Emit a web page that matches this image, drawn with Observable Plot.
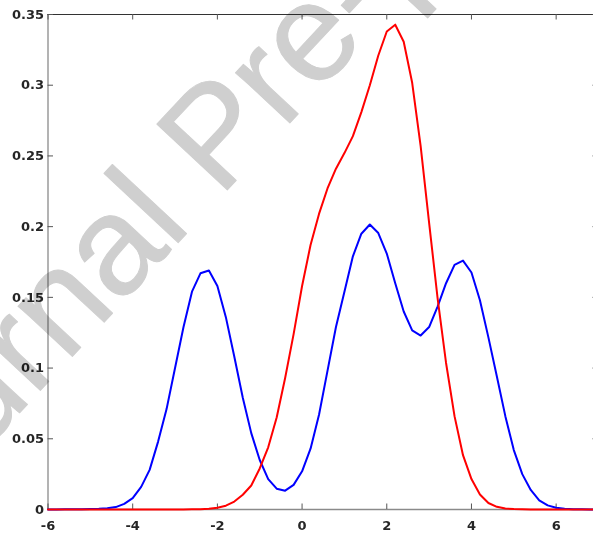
<!DOCTYPE html>
<html>
<head>
<meta charset="utf-8">
<script src="https://cdn.jsdelivr.net/npm/d3@7"></script>
<script src="https://cdn.jsdelivr.net/npm/@observablehq/plot@0.6"></script>
<style>
  html, body { margin: 0; padding: 0; background: #fff; }
  #chart svg { display: block; }
</style>
</head>
<body>
<div id="chart"></div>
<script>
// x grid of the sampled densities
const xs = [
  -6.0, -5.8, -5.6, -5.4, -5.2, -5.0, -4.8, -4.6, -4.4, -4.2,
  -4.0, -3.8, -3.6, -3.4, -3.2, -3.0, -2.8, -2.6, -2.4, -2.2,
  -2.0, -1.8, -1.6, -1.4, -1.2, -1.0, -0.8, -0.6, -0.4, -0.2,
   0.0,  0.2,  0.4,  0.6,  0.8,  1.0,  1.2,  1.4,  1.6,  1.8,
   2.0,  2.2,  2.4,  2.6,  2.8,  3.0,  3.2,  3.4,  3.6,  3.8,
   4.0,  4.2,  4.4,  4.6,  4.8,  5.0,  5.2,  5.4,  5.6,  5.8,
   6.0,  6.2,  6.4,  6.6,  6.8,  7.0
];

// blue series (three-mode density)
const blueValues = [
  0.0000, 0.0000, 0.0001, 0.0001, 0.0002, 0.0003, 0.0005, 0.0009, 0.0017, 0.0040,
  0.0080, 0.0160, 0.0280, 0.0480, 0.0710, 0.1000, 0.1290, 0.1540, 0.1670, 0.1690,
  0.1580, 0.1360, 0.1080, 0.0790, 0.0540, 0.0350, 0.0215, 0.0147, 0.0133, 0.0174,
  0.0270, 0.0430, 0.0670, 0.0980, 0.1290, 0.1540, 0.1790, 0.1950, 0.2015, 0.1955,
  0.1810, 0.1600, 0.1400, 0.1266, 0.1230, 0.1290, 0.1435, 0.1600, 0.1730, 0.1760,
  0.1676, 0.1480, 0.1217, 0.0940, 0.0660, 0.0420, 0.0250, 0.0138, 0.0065, 0.0029,
  0.0012, 0.0005, 0.0002, 0.0001, 0.0000, 0.0000
];

// red series (single skewed peak)
const redValues = [
  0.0000, 0.0000, 0.0000, 0.0000, 0.0000, 0.0000, 0.0000, 0.0000, 0.0000, 0.0000,
  0.0000, 0.0000, 0.0000, 0.0000, 0.0000, 0.0000, 0.0000, 0.0001, 0.0002, 0.0005,
  0.0012, 0.0027, 0.0056, 0.0104, 0.0170, 0.0290, 0.0440, 0.0650, 0.0930, 0.1240,
  0.1580, 0.1870, 0.2090, 0.2270, 0.2410, 0.2520, 0.2640, 0.2810, 0.3000, 0.3210,
  0.3380, 0.3428, 0.3307, 0.3017, 0.2570, 0.2027, 0.1495, 0.1036, 0.0660, 0.0384,
  0.0215, 0.0106, 0.0046, 0.0019, 0.0007, 0.0003, 0.0001, 0.0000, 0.0000, 0.0000,
  0.0000, 0.0000, 0.0000, 0.0000, 0.0000, 0.0000
];

const xTicks = [-6, -4, -2, 0, 2, 4, 6];
const yTicks = [0, 0.05, 0.1, 0.15, 0.2, 0.25, 0.3, 0.35];
const xDomain = [-6, 7];
const yDomain = [0, 0.35];
const watermark = ["Journal Pre-proof"];

const blue = xs.map((x, i) => ({x, y: blueValues[i]}));
const red = xs.map((x, i) => ({x, y: redValues[i]}));

const W = 593, H = 536;
const mL = 47.5, mR = -5, mT = 14, mB = 27;
const frameW = W - mL - mR, frameH = H - mT - mB;
const tick = 5.5;
const labelFont = "DejaVu Sans";

const chart = Plot.plot({
  width: W,
  height: H,
  marginLeft: mL,
  marginRight: mR,
  marginTop: mT,
  marginBottom: mB,
  style: {fontFamily: labelFont, fontWeight: "bold", color: "#262626", background: "#fff"},
  x: {domain: xDomain, label: null},
  y: {domain: yDomain, label: null},
  marks: [
    // axis box
    Plot.ruleY([yDomain[0]], {stroke: "#8a8a8a", strokeWidth: 1.3}),
    Plot.ruleX([xDomain[0]], {stroke: "#8a8a8a", strokeWidth: 1.3}),
    Plot.ruleY([yDomain[1]], {stroke: "#333", strokeWidth: 1}),
    Plot.ruleX([xDomain[1]], {stroke: "#333", strokeWidth: 1}),
    // inward ticks
    Plot.ruleX(xTicks, {stroke: "#555", insetTop: frameH - tick}),
    Plot.ruleX(xTicks, {stroke: "#555", insetBottom: frameH - tick}),
    Plot.ruleY(yTicks, {stroke: "#555", insetRight: frameW - tick}),
    Plot.ruleY(yTicks, {stroke: "#555", insetLeft: frameW - tick}),
    // tick labels
    Plot.axisX(xTicks, {label: null, tickSize: 0, tickPadding: 11, fontSize: 13, fontWeight: "bold", tickFormat: d => String(d), fill: "#262626"}),
    Plot.axisY(yTicks, {label: null, tickSize: 0, tickPadding: 4, fontSize: 13, fontWeight: "bold", tickFormat: d => String(d), fill: "#262626"}),
    // curves
    Plot.line(blue, {x: "x", y: "y", stroke: "#0000ff", strokeWidth: 2}),
    Plot.line(red, {x: "x", y: "y", stroke: "#ff0000", strokeWidth: 2}),
    // watermark
    Plot.text(watermark, {
      text: d => d, frameAnchor: "top-left", dx: 168, dy: 122,
      rotate: -47, fontSize: 140, fontFamily: "Liberation Sans", fontWeight: "normal",
      textAnchor: "middle", lineAnchor: "middle",
      fill: "#cfcfcf", stroke: "#cfcfcf", strokeWidth: 1, strokeLinejoin: "round",
      mixBlendMode: "multiply"
    })
  ]
});
document.getElementById("chart").appendChild(chart);
</script>
</body>
</html>
